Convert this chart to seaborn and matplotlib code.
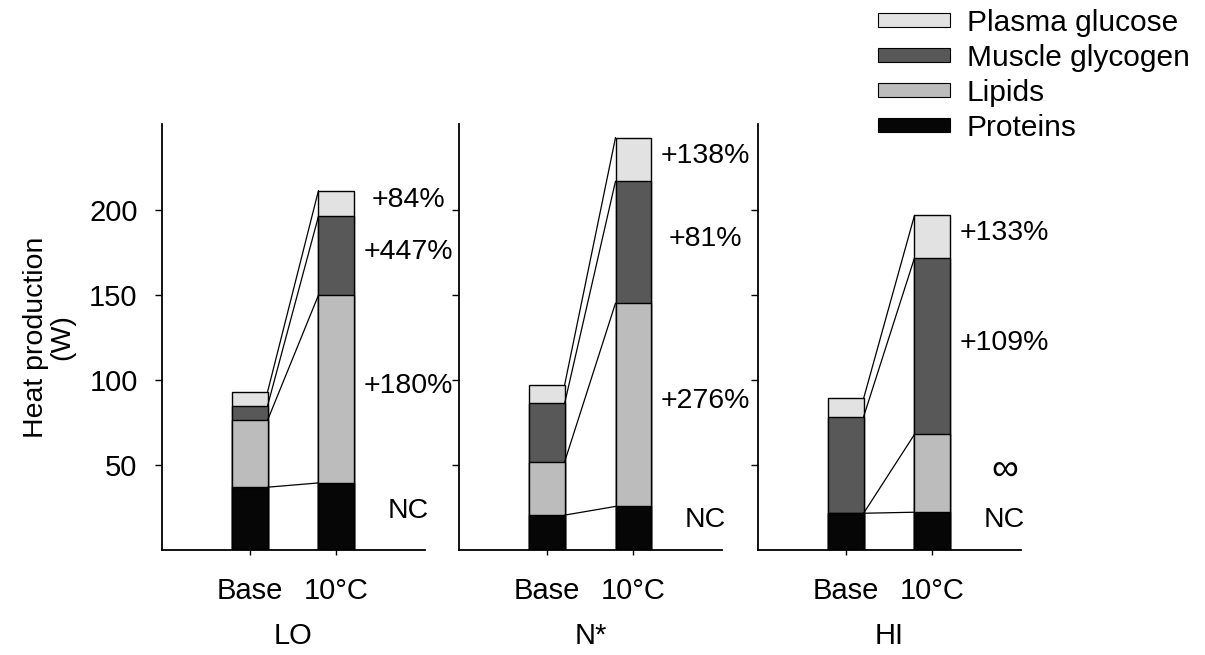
import numpy as np
import pandas as pd
import matplotlib
matplotlib.use("Agg")
import matplotlib.pyplot as plt
from matplotlib.patches import Patch
import seaborn as sns

# ---- data: heat production (W) by fuel, values are [Base, 10°C] ----
groups = ["LO", "N*", "HI"]
conditions = ["Base", "10°C"]
fuels = ["Proteins", "Lipids", "Muscle glycogen", "Plasma glucose"]

proteins = {"LO": [37.0, 39.5], "N*": [20.6, 25.7], "HI": [21.7, 22.3]}
lipids = {"LO": [39.4, 110.3], "N*": [31.3, 119.4], "HI": [0.0, 45.7]}
glycogen = {"LO": [8.5, 46.3], "N*": [34.3, 71.6], "HI": [56.7, 103.6]}
glucose = {"LO": [8.2, 15.1], "N*": [10.9, 25.6], "HI": [10.7, 25.0]}

# change from Base to 10°C, listed bottom (proteins) to top (glucose)
change_labels = {
    "LO": ["NC", "+180%", "+447%", "+84%"],
    "N*": ["NC", "+276%", "+81%", "+138%"],
    "HI": ["NC", "∞", "+109%", "+133%"],
}

y_ticks = [50, 100, 150, 200]

# ---- style ----
sns.set_style("ticks")
plt.rcParams["font.family"] = ["Liberation Sans", "DejaVu Sans"]
plt.rcParams.update({
    "axes.linewidth": 1.3,
    "axes.edgecolor": "black",
    "axes.labelcolor": "black",
    "text.color": "black",
    "xtick.color": "black",
    "ytick.color": "black",
})

fill = {
    "Proteins": "#060606",
    "Lipids": "#bcbcbc",
    "Muscle glycogen": "#585858",
    "Plasma glucose": "#e2e2e2",
}
bar_w = 0.414
fs = 20.5

fig = plt.figure(figsize=(12.05, 6.55), dpi=100)
lefts = [0.1344, 0.3809, 0.629]
axes = [fig.add_axes([l, 0.160, 0.2183, 0.650]) for l in lefts]

for i, (ax, g) in enumerate(zip(axes, groups)):
    stack = np.vstack([proteins[g], lipids[g], glycogen[g], glucose[g]])
    cum = stack.cumsum(axis=0)
    df = pd.DataFrame({
        "condition": np.tile(conditions, len(fuels)),
        "fuel": np.repeat(fuels, len(conditions)),
        "top": cum.ravel(),
    })
    # stacked bars: draw cumulative totals from the top layer downwards
    for fuel in reversed(fuels):
        sub = df[df["fuel"] == fuel]
        sns.barplot(data=sub, x="condition", y="top", order=conditions,
                    color=fill[fuel], saturation=1, width=bar_w,
                    edgecolor="black", linewidth=1.0, errorbar=None, ax=ax)

    # connector lines between matching layer boundaries
    for k in range(len(fuels)):
        ax.plot([0 + bar_w / 2, 1 - bar_w / 2], [cum[k, 0], cum[k, 1]],
                color="black", lw=0.9, zorder=3)

    # percent-change labels next to the 10°C bar
    lower = np.concatenate([[0], cum[:-1, 1]])
    mids = (lower + cum[:, 1]) / 2
    for k, lab in enumerate(change_labels[g]):
        y = mids[k] + 2
        if k == 0:
            y = max(mids[k] + 3, 17.5)
        size = 27 if lab == "∞" else 20.5
        ax.text(1.83, y, lab, ha="center", va="center", fontsize=size)

    ax.set_xlim(-1.01, 2.02)
    ax.set_ylim(0, 250)
    ax.set_yticks(y_ticks)
    sns.despine(ax=ax)
    ax.tick_params(axis="y", length=5, width=1, pad=12.5, labelsize=21)
    ax.tick_params(axis="x", length=3.6, width=1, pad=16, labelsize=21)
    if i > 0:
        ax.set_yticklabels([])
        ax.set_ylabel("")
    else:
        ax.set_ylabel("Heat production\n(W)", fontsize=fs, labelpad=10,
                      linespacing=1.0)
    ax.set_xlabel(g, fontsize=21, labelpad=12)

handles = [Patch(facecolor=fill[f], edgecolor="black", linewidth=0.8, label=f)
           for f in reversed(fuels)]
fig.legend(handles=handles, loc="upper left",
           bbox_to_anchor=(878 / 1205, 0.987), frameon=False, fontsize=21.5,
           handlelength=2.4, handleheight=0.33, labelspacing=0.24,
           handletextpad=0.58, borderpad=0, borderaxespad=0)

fig.savefig("out.png", dpi=100)
